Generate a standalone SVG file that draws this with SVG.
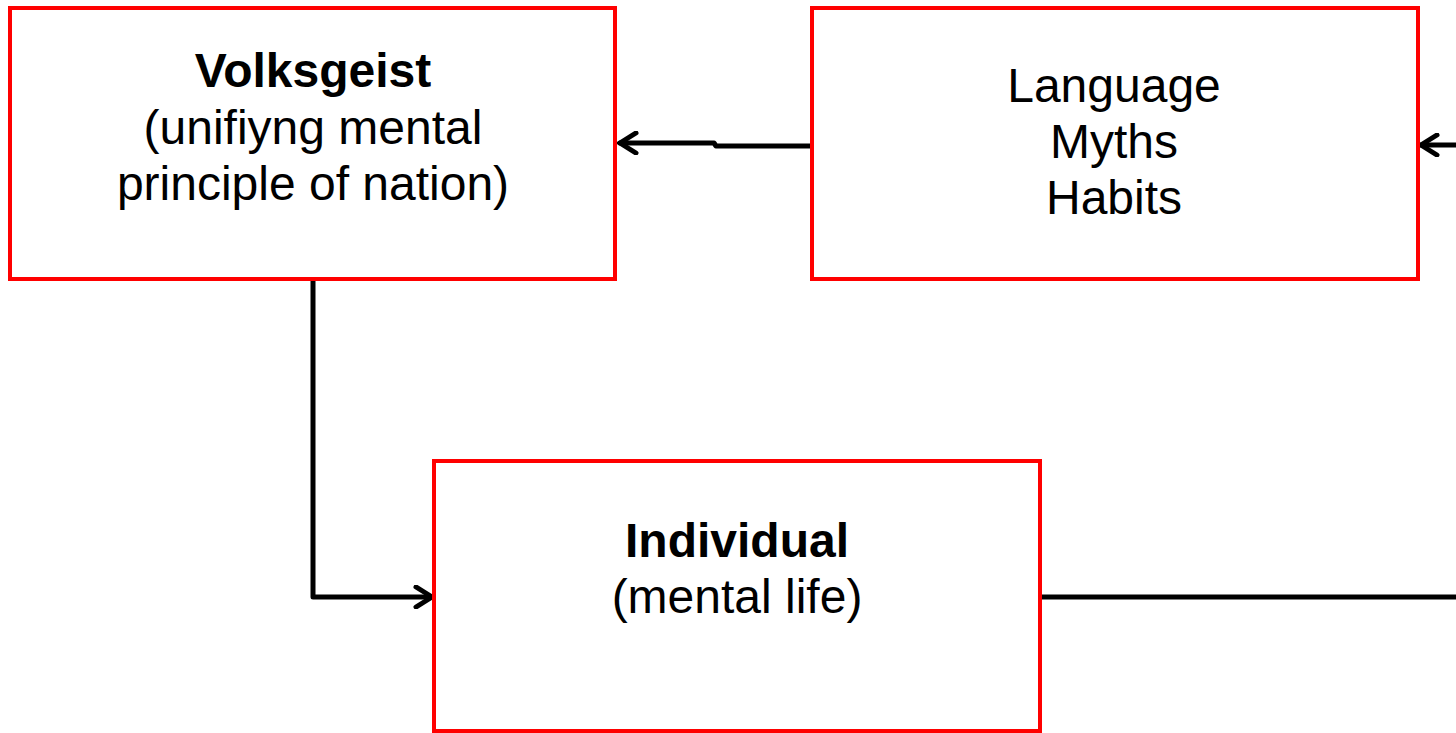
<svg xmlns="http://www.w3.org/2000/svg" width="1456" height="733" viewBox="0 0 1456 733">
<style>
.box{fill:#fff;stroke:#ff0000;stroke-width:4}
.t{font-family:"Liberation Sans",Arial,sans-serif;font-size:48px;fill:#000;text-anchor:middle}
.b{font-weight:bold}
.c{fill:none;stroke:#000;stroke-width:5;stroke-linecap:round;stroke-linejoin:round}
</style>
<defs>
<marker id="arr" viewBox="0 0 24 24" refX="21" refY="12" markerWidth="24" markerHeight="24" markerUnits="userSpaceOnUse" orient="auto">
<path d="M5,2 L21,12 L5,22" fill="none" stroke="#000" stroke-width="5" stroke-linecap="round" stroke-linejoin="miter"/>
</marker>
</defs>
<rect width="1456" height="733" fill="#fff"/>
<g id="connectors">
<path class="c" d="M812,146 L716,146 L714,143 L620,143" marker-end="url(#arr)"/>
<path class="c" d="M1460,145 L1421,145" marker-end="url(#arr)"/>
<path class="c" d="M313,279 L313,597 L432,597" marker-end="url(#arr)"/>
<path class="c" d="M1040,597 L1460,597" style="stroke-linecap:butt"/>
</g>
<g id="volksgeist">
<rect class="box" x="10" y="8" width="605" height="271"/>
<text class="t b" x="313" y="87">Volksgeist</text>
<text class="t" x="313" y="144">(unifiyng mental</text>
<text class="t" x="313" y="200">principle of nation)</text>
</g>
<g id="language">
<rect class="box" x="812" y="8" width="606" height="271"/>
<text class="t" x="1114" y="102">Language</text>
<text class="t" x="1114" y="158">Myths</text>
<text class="t" x="1114" y="214">Habits</text>
</g>
<g id="individual">
<rect class="box" x="434" y="461" width="606" height="270"/>
<text class="t b" x="737" y="557">Individual</text>
<text class="t" x="737" y="613">(mental life)</text>
</g>
</svg>
